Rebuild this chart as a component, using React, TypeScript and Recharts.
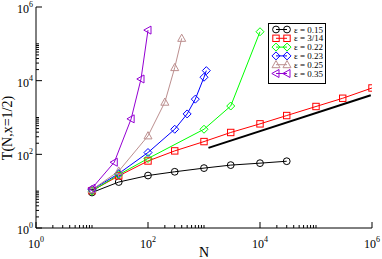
import { LineChart, Line, XAxis, YAxis, Legend } from "recharts"

// N values and T(N, x=1/2)
const nEps015 = [10, 30, 100, 300, 1000, 3000, 10000, 30000]
const tEps015 = [9.2, 17.7, 26.6, 33.6, 42.3, 51, 57.6, 65]

const nEps314 = [10, 30, 100, 300, 1000, 3000, 10000, 30000, 100000, 300000, 1000000]
const tEps314 = [10.3, 26, 66, 124, 222, 392, 672, 1130, 1990, 3330, 6330]

const nEps022 = [10, 30, 100, 1000, 3000, 10000]
const tEps022 = [10, 28, 77, 480, 2050, 213000]

const nEps023 = [10, 30, 100, 300, 500, 700, 1000, 1100]
const tEps023 = [11, 30, 112, 480, 1250, 3150, 12400, 18700]

const nEps025 = [10, 30, 100, 200, 300, 400]
const tEps025 = [11, 35, 317, 2600, 22600, 141000]

const nEps035 = [10, 25, 50, 75, 100]
const tEps035 = [12, 61, 920, 11100, 236000]

// guide line ~ N^(1/2)
const nGuide = [1200, 950000]
const tGuide = [150, 4000]

const majorTicks = [1, 100, 10000, 1000000]
const minorTicks = [1, 100, 10000].flatMap((d) => [2, 3, 4, 5, 6, 7, 8, 9, 10].map((k) => k * d))
const allTicks = [...majorTicks, ...minorTicks].sort((a, b) => a - b)

const FONT = "'Liberation Serif', 'DejaVu Serif', serif"

type Shape = "circle" | "square" | "diamond" | "triUp" | "triLeft"

const toPoints = (ns: number[], ts: number[]) => ns.map((n, i) => ({ x: n, y: ts[i] }))

const series = [
  { name: "ε = 0.15", color: "#000000", shape: "circle" as Shape, data: toPoints(nEps015, tEps015) },
  { name: "ε = 3/14", color: "#ff0000", shape: "square" as Shape, data: toPoints(nEps314, tEps314) },
  { name: "ε = 0.22", color: "#00ff00", shape: "diamond" as Shape, data: toPoints(nEps022, tEps022) },
  { name: "ε = 0.23", color: "#0000ff", shape: "diamond" as Shape, data: toPoints(nEps023, tEps023) },
  { name: "ε = 0.25", color: "#bc8f8f", shape: "triUp" as Shape, data: toPoints(nEps025, tEps025) },
  { name: "ε = 0.35", color: "#9400d3", shape: "triLeft" as Shape, data: toPoints(nEps035, tEps035) },
]

function Marker({ shape, cx, cy, color }: { shape: Shape; cx: number; cy: number; color: string }) {
  const common = { fill: "none", stroke: color, strokeWidth: 1 }
  switch (shape) {
    case "circle":
      return <circle cx={cx} cy={cy} r={3.4} {...common} />
    case "square":
      return <rect x={cx - 3.2} y={cy - 3.2} width={6.4} height={6.4} {...common} />
    case "diamond":
      return <polygon points={`${cx},${cy - 4} ${cx + 4},${cy} ${cx},${cy + 4} ${cx - 4},${cy}`} {...common} />
    case "triUp":
      return <polygon points={`${cx},${cy - 4.2} ${cx + 4},${cy + 3} ${cx - 4},${cy + 3}`} {...common} />
    default:
      return <polygon points={`${cx - 4.2},${cy} ${cx + 3},${cy - 4} ${cx + 3},${cy + 4}`} {...common} />
  }
}

const isMajor = (v: number) => majorTicks.includes(v)
const expOf = (v: number) => Math.round(Math.log10(v))

function BottomTick({ x, y, payload }: any) {
  const v = payload.value
  const major = isMajor(v)
  return (
    <g>
      <line x1={x} x2={x} y1={y} y2={y - (major ? 6 : 3)} stroke="#000" />
      {major && (
        <text x={x} y={y + 20} textAnchor="middle" fontFamily={FONT} fontSize={12} fill="#000">
          10<tspan dy={-6} fontSize={8}>{expOf(v)}</tspan>
        </text>
      )}
    </g>
  )
}

function TopTick({ x, y, payload }: any) {
  const major = isMajor(payload.value)
  return <line x1={x} x2={x} y1={y} y2={y + (major ? 6 : 3)} stroke="#000" />
}

function LeftTick({ x, y, payload }: any) {
  const v = payload.value
  const major = isMajor(v)
  return (
    <g>
      <line x1={x} x2={x + (major ? 6 : 3)} y1={y} y2={y} stroke="#000" />
      {major && (
        <text x={x - 3} y={y + 6} textAnchor="end" fontFamily={FONT} fontSize={12} fill="#000">
          10<tspan dy={-6} fontSize={8}>{expOf(v)}</tspan>
        </text>
      )}
    </g>
  )
}

function RightTick({ x, y, payload }: any) {
  const major = isMajor(payload.value)
  return <line x1={x} x2={x - (major ? 6 : 3)} y1={y} y2={y} stroke="#000" />
}

function LegendBox() {
  const rowH = 8.8
  return (
    <svg width={58} height={61} style={{ display: "block" }}>
      <rect x={0.5} y={0.5} width={57} height={60} fill="#fff" stroke="#000" />
      {series.map((s, i) => {
        const cy = 6.5 + i * rowH
        return (
          <g key={s.name}>
            <line x1={8} x2={19} y1={cy} y2={cy} stroke={s.color} />
            <Marker shape={s.shape} cx={8} cy={cy} color={s.color} />
            <Marker shape={s.shape} cx={19} cy={cy} color={s.color} />
            <text x={26} y={cy + 3} fontFamily={FONT} fontSize={9} fill="#000">
              {s.name}
            </text>
          </g>
        )
      })}
    </svg>
  )
}

export default function App() {
  return (
    <div style={{ position: "absolute", left: 0, top: 0, width: 382, height: 259, background: "#fff" }}>
      <LineChart width={382} height={259} margin={{ top: 7, right: 10, bottom: 0, left: 0 }}>
        <XAxis
          xAxisId={0}
          dataKey="x"
          type="number"
          scale="log"
          domain={[1, 1000000]}
          allowDataOverflow
          ticks={allTicks}
          interval={0}
          tick={<BottomTick />}
          tickLine={false}
          tickSize={0}
          tickMargin={0}
          height={31}
          axisLine={{ stroke: "#000" }}
          label={{
            content: () => (
              <text x={204} y={257} textAnchor="middle" fontFamily={FONT} fontSize={14} fill="#000">
                N
              </text>
            ),
          }}
        />
        <XAxis
          xAxisId="top"
          orientation="top"
          type="number"
          scale="log"
          domain={[1, 1000000]}
          allowDataOverflow
          ticks={allTicks}
          interval={0}
          tick={<TopTick />}
          tickLine={false}
          tickSize={0}
          tickMargin={0}
          height={0}
          axisLine={{ stroke: "#000" }}
        />
        <YAxis
          yAxisId={0}
          type="number"
          scale="log"
          domain={[1, 1000000]}
          allowDataOverflow
          ticks={allTicks}
          interval={0}
          tick={<LeftTick />}
          tickLine={false}
          tickSize={0}
          tickMargin={0}
          width={36}
          axisLine={{ stroke: "#000" }}
          label={{
            content: () => (
              <text
                x={9}
                y={128}
                textAnchor="middle"
                transform="rotate(-90 9 128)"
                fontFamily={FONT}
                fontSize={14}
                fill="#000"
                dominantBaseline="middle"
              >
                T(N,x=1/2)
              </text>
            ),
          }}
        />
        <YAxis
          yAxisId="right"
          orientation="right"
          type="number"
          scale="log"
          domain={[1, 1000000]}
          allowDataOverflow
          ticks={allTicks}
          interval={0}
          tick={<RightTick />}
          tickLine={false}
          tickSize={0}
          tickMargin={0}
          width={0}
          axisLine={{ stroke: "#000" }}
        />
        <Legend
          layout="vertical"
          verticalAlign="middle"
          align="center"
          content={() => <LegendBox />}
          wrapperStyle={{ position: "absolute", left: 268, top: 23, width: 58, height: 61 }}
        />
        <Line
          data={toPoints(nGuide, tGuide)}
          dataKey="y"
          stroke="#000"
          strokeWidth={2}
          dot={false}
          legendType="none"
          isAnimationActive={false}
        />
        {series.map((s) => (
          <Line
            key={s.name}
            data={s.data}
            dataKey="y"
            name={s.name}
            stroke={s.color}
            strokeWidth={1}
            isAnimationActive={false}
            activeDot={false}
            dot={(p: any) => <Marker key={`${s.name}-${p.index}`} shape={s.shape} cx={p.cx} cy={p.cy} color={s.color} />}
          />
        ))}
      </LineChart>
    </div>
  )
}
